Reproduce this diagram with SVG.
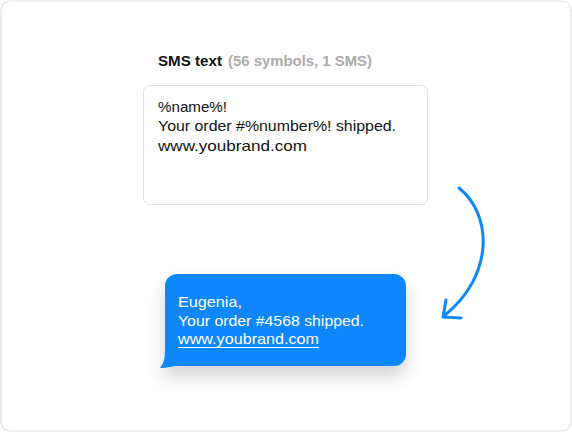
<svg xmlns="http://www.w3.org/2000/svg" width="572" height="432" viewBox="0 0 572 432">
<defs>
<style>
.t{font-family:"Liberation Sans","Noto Sans",sans-serif;font-size:15px;}
.b{font-size:14.5px;}
.dark{fill:#111;}
.w{fill:#fff;}
</style>
<filter id="sh" x="-30%" y="-30%" width="160%" height="190%">
<feGaussianBlur in="SourceAlpha" stdDeviation="9"/>
<feOffset dy="10"/>
<feComponentTransfer><feFuncA type="linear" slope="0.18"/></feComponentTransfer>
<feMerge><feMergeNode/><feMergeNode in="SourceGraphic"/></feMerge>
</filter>
</defs>
<rect x="1" y="1" width="570" height="430" rx="9" fill="#fff" stroke="#e2e2e2" stroke-width="1.2"/>
<g id="title">
<text class="t" x="158" y="66" font-weight="bold" font-size="14px" fill="#111" textLength="64" lengthAdjust="spacingAndGlyphs">SMS text</text>
<text class="t" x="228" y="66" font-weight="bold" font-size="14px" fill="#ababab" textLength="144" lengthAdjust="spacingAndGlyphs">(56 symbols, 1 SMS)</text>
</g>
<g id="template">
<rect x="143.5" y="85.5" width="284" height="119" rx="6" fill="#fff" stroke="#e0e0e0"/>
<text class="t dark" x="158" y="111.5" textLength="69" lengthAdjust="spacingAndGlyphs">%name%!</text>
<text class="t dark" x="158" y="131" textLength="238" lengthAdjust="spacingAndGlyphs">Your order #%number%! shipped.</text>
<text class="t dark" x="158" y="150.5" textLength="149" lengthAdjust="spacingAndGlyphs">www.youbrand.com</text>
</g>
<g id="bubble">
<path d="M177,274 H394 A12,12 0 0 1 406,286 V354 A12,12 0 0 1 394,366 H178 C172,366 168,368 160,368 C164,363 165,358 165,350 V286 A12,12 0 0 1 177,274 Z" fill="#0a87fb" filter="url(#sh)"/>
<text class="t b w" x="178" y="306.5" textLength="64" lengthAdjust="spacingAndGlyphs">Eugenia,</text>
<text class="t b w" x="178" y="326" textLength="186" lengthAdjust="spacingAndGlyphs">Your order #4568 shipped.</text>
<text class="t b w" x="178" y="344" textLength="141" lengthAdjust="spacingAndGlyphs">www.youbrand.com</text>
<line x1="178" y1="347.5" x2="319" y2="347.5" stroke="#fff" stroke-width="1"/>
</g>
<g id="connectors" fill="none" stroke="#0a87fb" stroke-width="3" stroke-linecap="round" stroke-linejoin="round">
<path d="M459,188 C492,214 495,275 444,316"/>
<path d="M446,300 L443,317 L461,318"/>
</g>
</svg>
